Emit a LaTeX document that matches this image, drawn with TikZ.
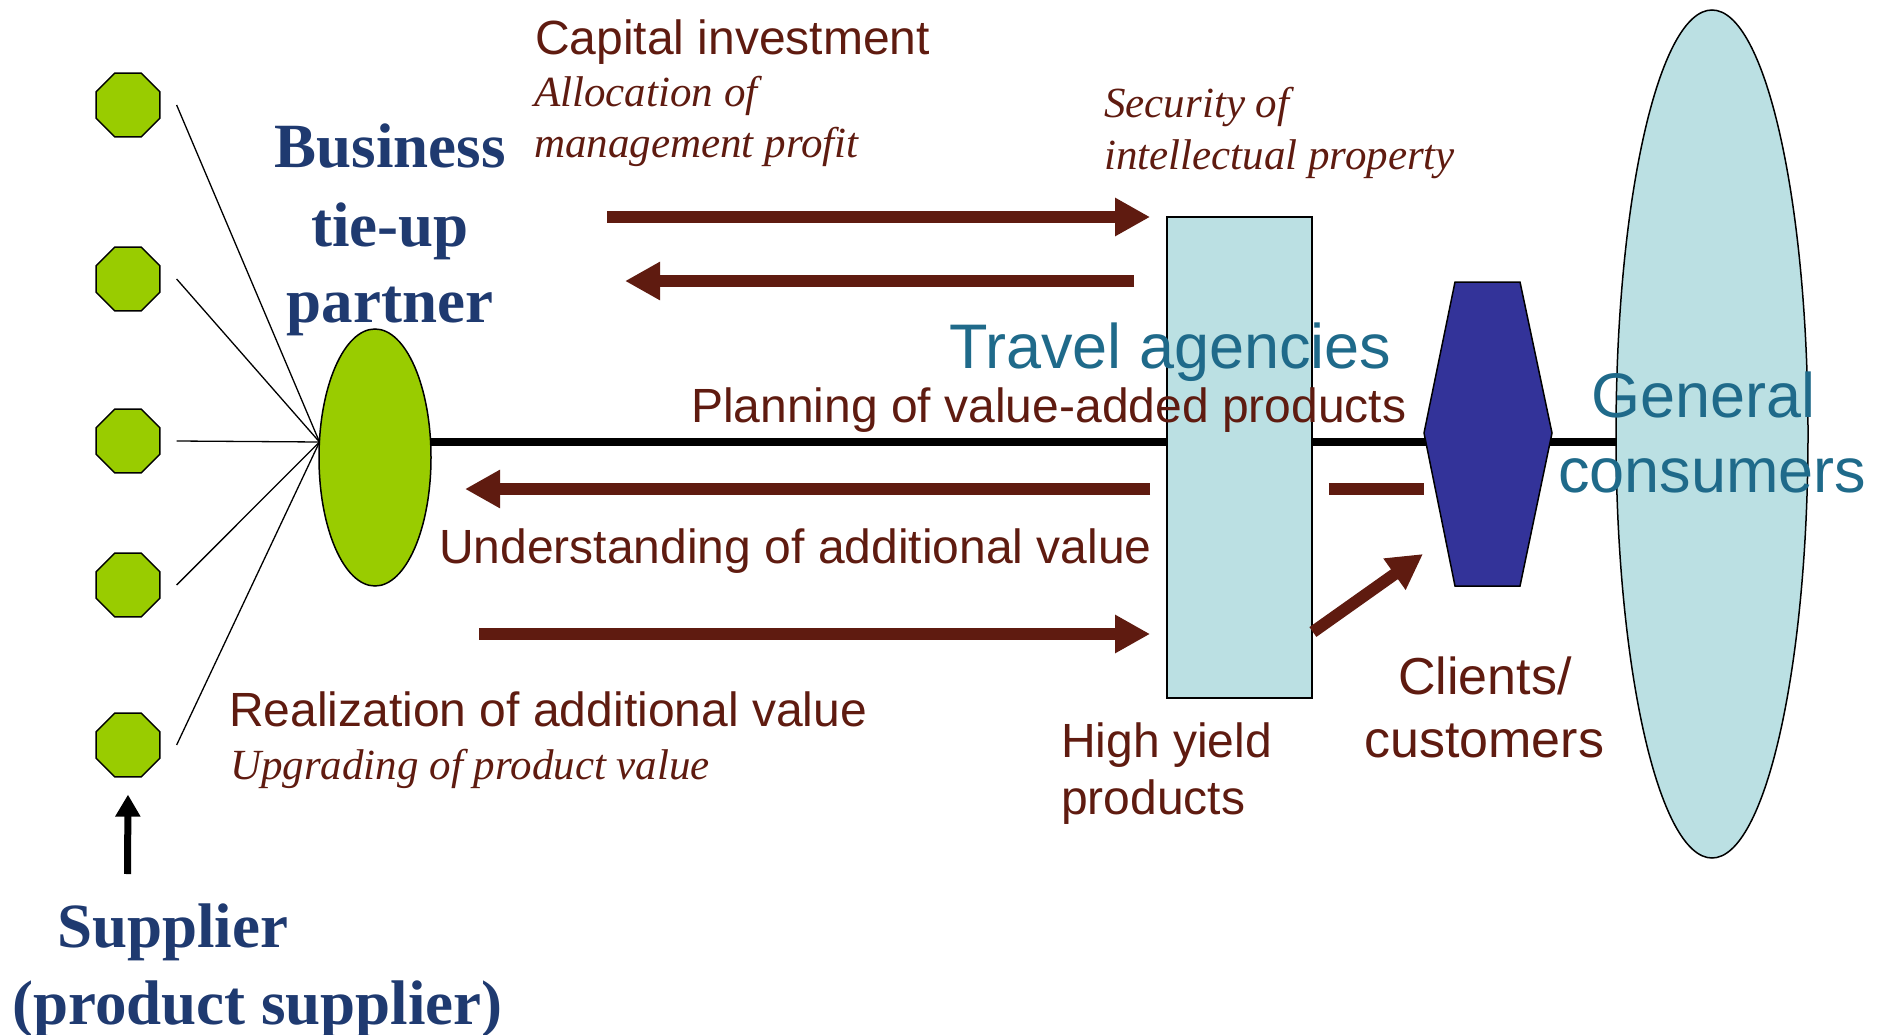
\documentclass[tikz,border=0pt]{standalone}
\usepackage{fontspec}
\setmainfont{Liberation Sans}
\newfontfamily\seriffont{Liberation Serif}
\usetikzlibrary{shapes.geometric,arrows.meta,backgrounds,calc}
\definecolor{darkred}{HTML}{5F1B10}
\definecolor{navytxt}{HTML}{1F3A70}
\definecolor{tealtxt}{HTML}{1F6A8A}
\definecolor{greenf}{HTML}{99CC00}
\definecolor{cyanf}{HTML}{BBE0E3}
\definecolor{hexblue}{HTML}{333399}
\tikzset{
  lbl/.style={inner sep=0pt, anchor=base west, text=darkred, font=\fontsize{48}{57}\selectfont},
  itl/.style={inner sep=0pt, anchor=base west, text=darkred, font=\seriffont\itshape\fontsize{43}{51}\selectfont},
  ttl/.style={inner sep=0pt, anchor=base, text=navytxt, font=\seriffont\bfseries\fontsize{63}{76}\selectfont},
  tealt/.style={inner sep=0pt, anchor=base west, text=tealtxt, font=\fontsize{63}{75}\selectfont},
  oct/.style={regular polygon, regular polygon sides=8, minimum size=69pt, inner sep=0pt, fill=greenf, draw=black, line width=1.5pt},
  fan/.style={draw=black, line width=1.3pt},
  bigarrow/.style={draw=darkred, line width=12pt, -{Triangle[length=35pt,width=36pt]}},
  bar/.style={draw=darkred, line width=12pt},
}
\begin{document}
\begin{tikzpicture}[x=1pt,y=-1pt]
\useasboundingbox (0,0) rectangle (1887,1035);
% shapes
\node[oct] (o1) at (128,105) {};
\node[oct] (o2) at (128,279) {};
\node[oct] (o3) at (128,441) {};
\node[oct] (o4) at (128,585) {};
\node[oct] (o5) at (128,745) {};
\node[ellipse, minimum width=112pt, minimum height=257pt, inner sep=0pt, fill=greenf, draw=black, line width=1.5pt] (partner) at (375,457.5) {};
\coordinate (conv) at (319.5,442);
\node[rectangle, minimum width=145pt, minimum height=481pt, inner sep=0pt, fill=cyanf, draw=black, line width=1.8pt] (agency) at (1239.5,457.5) {};
\node[ellipse, minimum width=192pt, minimum height=848pt, inner sep=0pt, fill=cyanf, draw=black, line width=1.5pt] (cons) at (1712,434) {};
\coordinate (hl) at (1424,433);
\coordinate (hr) at (1552,433);
\draw[fill=hexblue, draw=black, line width=1.5pt] (hl) -- (1455,282) -- (1520,282) -- (hr) -- (1520,586) -- (1455,586) -- cycle;
% main black line behind shapes
\begin{pgfonlayer}{background}
\draw[line width=8pt] (conv) -- (conv -| cons.center);
\end{pgfonlayer}
% fan lines
\draw[fan] ([xshift=16pt]o1.east) -- (conv);
\draw[fan] ([xshift=16pt]o2.east) -- (conv);
\draw[fan] ([xshift=16pt]o3.east) -- (conv);
\draw[fan] ([xshift=16pt]o4.east) -- (conv);
\draw[fan] ([xshift=16pt]o5.east) -- (conv);
% arrows
\coordinate (a1s) at (607,217);
\coordinate (a2e) at (625,281);
\coordinate (a3e) at (465,489);
\coordinate (a4s) at (479,634);
\draw[bigarrow] (a1s) -- ($(agency.west |- a1s)+(-16,0)$);
\draw[bigarrow] ($(agency.west |- a2e)+(-32,0)$) -- (a2e);
\draw[bigarrow] ($(agency.west |- a3e)+(-16,0)$) -- (a3e);
\draw[bar] ($(agency.east |- a3e)+(16,0)$) -- (a3e -| hl);
\draw[bigarrow] (a4s) -- ($(agency.west |- a4s)+(-16,0)$);
\draw[bigarrow] ($(agency.east |- a4s)+(0,-2)$) -- (1423,554);
\coordinate (supbot) at (127.5,874);
\draw[line width=7pt, -{Triangle[length=22pt,width=24pt]}] (supbot) -- ([yshift=-17pt]o5.south);
% texts
\node[lbl] (capital) at (535,55) {Capital investment};
\node[itl] (alloc1) at (534,107) {Allocation of};
\node[itl] (alloc2) at (534,158) {management profit};
\node[ttl] (biz1) at (390,168) {Business};
\node[ttl] (biz2) at (390,247) {tie-up};
\node[ttl] (biz3) at (390,322) {partner};
\node[itl] (sec1) at (1104,118) {Security of};
\node[itl] (sec2) at (1104,170) {intellectual property};
\node[tealt] (travel) at (949,368) {Travel agencies};
\node[lbl] (plan) at (691,422) {Planning of value-added products};
\node[tealt] (gen1) at (1591,417) {General};
\node[tealt] (gen2) at (1558,492) {consumers};
\node[lbl] (under) at (439,563) {Understanding of additional value};
\node[lbl] (real) at (229,726) {Realization of additional value};
\node[itl] (upg) at (230,779) {Upgrading of product value};
\node[ttl, anchor=base west] (sup1) at (57,947) {Supplier};
\node[ttl, anchor=base west] (sup2) at (12,1024) {(product supplier)};
\node[lbl] (high1) at (1061,757) {High yield};
\node[lbl] (high2) at (1061,814) {products};
\node[lbl, font=\fontsize{52}{60}\selectfont] (cli1) at (1398,694) {Clients/};
\node[lbl, font=\fontsize{52}{60}\selectfont] (cli2) at (1364,757) {customers};
\end{tikzpicture}
\end{document}
